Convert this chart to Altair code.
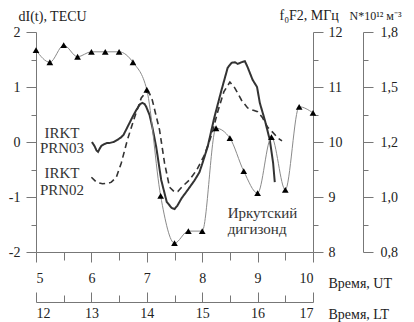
import altair as alt
import pandas as pd

FONT = "Liberation Serif, Times New Roman, serif"

# IRKT PRN03 (solid), dI(t) TECU vs UT hours
ut_prn03 = [6.01, 6.06, 6.09, 6.12, 6.15, 6.18, 6.23, 6.28, 6.32, 6.40, 6.47, 6.53, 6.58, 6.65,
            6.74, 6.81, 6.88, 6.92, 6.96, 6.99, 7.05, 7.10, 7.17, 7.26, 7.36, 7.45, 7.50, 7.55,
            7.63, 7.74, 7.86, 7.95, 8.00, 8.10, 8.22, 8.35, 8.46, 8.53, 8.59, 8.64, 8.71, 8.77,
            8.82, 8.91, 8.99, 9.04, 9.13, 9.22, 9.28, 9.31]
di_prn03 = [0.00, -0.08, -0.15, -0.18, -0.12, -0.07, -0.04, -0.02, -0.02, 0.00, 0.04, 0.08, 0.13, 0.27,
            0.45, 0.58, 0.69, 0.71, 0.69, 0.64, 0.49, 0.27, -0.09, -0.69, -1.09, -1.20, -1.22, -1.16,
            -1.02, -0.87, -0.70, -0.55, -0.40, -0.08, 0.45, 0.95, 1.35, 1.44, 1.45, 1.42, 1.45, 1.47,
            1.36, 1.13, 1.00, 0.71, 0.40, 0.04, -0.38, -0.73]

# IRKT PRN02 (dashed)
ut_prn02 = [6.00, 6.09, 6.20, 6.30, 6.36, 6.45, 6.54, 6.65, 6.78, 6.90, 6.99, 7.05, 7.10, 7.23,
            7.32, 7.41, 7.50, 7.56, 7.63, 7.77, 7.90, 8.04, 8.17, 8.28, 8.39, 8.50, 8.59, 8.71,
            8.82, 8.91, 9.00, 9.09, 9.18, 9.27, 9.37, 9.44]
di_prn02 = [-0.64, -0.73, -0.76, -0.75, -0.73, -0.64, -0.38, 0.04, 0.45, 0.80, 0.91, 0.88, 0.76, 0.22,
            -0.38, -0.82, -0.91, -0.90, -0.82, -0.69, -0.51, -0.24, 0.13, 0.55, 0.91, 1.09, 0.98, 0.76,
            0.62, 0.58, 0.55, 0.44, 0.27, 0.18, 0.07, 0.02]

# Irkutsk digisonde foF2, MHz
ut_fof2 = [5.0, 5.25, 5.5, 5.75, 6.0, 6.25, 6.5, 6.75, 7.0, 7.25, 7.5, 7.75, 8.0, 8.25, 8.5,
           8.75, 9.0, 9.25, 9.5, 9.75, 10.0]
fof2 = [11.67, 11.45, 11.76, 11.55, 11.64, 11.64, 11.64, 11.45, 10.95, 9.02, 8.16, 8.38, 8.38,
        10.25, 10.07, 9.47, 9.07, 10.09, 9.13, 10.64, 10.53]

ut_ticks = [5, 6, 7, 8, 9, 10]
ut_minor = [5.5, 6.5, 7.5, 8.5, 9.5]
lt_ticks = [12, 13, 14, 15, 16, 17]
lt_minor = [12.5, 13.5, 14.5, 15.5, 16.5]
di_ticks = [-2, -1, 0, 1, 2]
di_minor = [-1.5, -0.5, 0.5, 1.5]
fof2_ticks = [8, 9, 10, 11, 12]
fof2_minor = [8.5, 9.5, 10.5, 11.5]
n_labels = ["0,8", "1,0", "1,2", "1,5", "1,8"]

label_lines = ["IRKT", "PRN03", "IRKT", "PRN02"]
label_ut = [5.47, 5.47, 5.47, 5.47]
label_di = [0.17, -0.11, -0.56, -0.87]
dig_lines = ["Иркутский", "дигизонд"]
dig_ut = [8.46, 8.46]
dig_di = [-1.29, -1.58]

tec = pd.concat([
    pd.DataFrame({"ut": ut_prn03, "di": di_prn03, "series": "PRN03"}),
    pd.DataFrame({"ut": ut_prn02, "di": di_prn02, "series": "PRN02"}),
])
fdf = pd.DataFrame({"ut": ut_fof2, "f": fof2})
lab_df = pd.DataFrame({"t": label_lines, "ut": label_ut, "di": label_di})
dig_df = pd.DataFrame({"t": dig_lines, "ut": dig_ut, "di": dig_di})

xs = alt.Scale(domain=[5, 10], nice=False, zero=False)
xlt = alt.Scale(domain=[12, 17], nice=False, zero=False)
ytec = alt.Scale(domain=[-2, 2], nice=False, zero=False)
yf = alt.Scale(domain=[8, 12], nice=False, zero=False)

ST = dict(labelFont=FONT, labelFontSize=14, labelColor="#222", titleFont=FONT,
          titleFontSize=14, titleFontWeight="normal", titleColor="#222",
          domainColor="#777", tickColor="#777", grid=False)

# TEC curves with main UT and left axes
tec_layer = alt.Chart(tec).mark_line(color="#333").encode(
    x=alt.X("ut:Q", scale=xs, axis=alt.Axis(
        orient="bottom", values=ut_ticks, format="d", tickSize=10, labelPadding=9,
        title="Время, UT", titleX=292, titleY=31, titleAlign="left", titleBaseline="middle", **ST)),
    y=alt.Y("di:Q", scale=ytec, axis=alt.Axis(
        orient="left", values=di_ticks, labelExpr="'' + datum.value", tickSize=10, labelPadding=6,
        title="dI(t), TECU", titleAngle=0, titleX=-18, titleY=-12, titleAlign="left",
        titleBaseline="alphabetic", **ST)),
    strokeDash=alt.StrokeDash("series:N", scale=alt.Scale(domain=["PRN03", "PRN02"],
                                                          range=[[1, 0], [6, 4]]), legend=None),
    strokeWidth=alt.StrokeWidth("series:N", scale=alt.Scale(domain=["PRN03", "PRN02"],
                                                            range=[2, 1.6]), legend=None),
)

minor_df_x = pd.DataFrame({"ut": ut_minor, "di": di_minor + [0]})
tec_minor = alt.Chart(minor_df_x).mark_point(opacity=0).encode(
    x=alt.X("ut:Q", scale=xs, axis=alt.Axis(orient="bottom", values=ut_minor, tickSize=8,
                                              labels=False, domain=False, title=None, **ST)),
    y=alt.Y("di:Q", scale=ytec, axis=alt.Axis(orient="left", values=di_minor, tickSize=5,
                                              labels=False, domain=False, title=None, **ST)),
)

fof2_layer = alt.Chart(fdf).mark_line(
    color="#8a8a8a", strokeWidth=1, interpolate="monotone",
    point=alt.OverlayMarkDef(shape="triangle-up", filled=True, color="black", size=45, opacity=1),
).encode(
    x=alt.X("ut:Q", scale=xs, axis=None),
    y=alt.Y("f:Q", scale=yf, axis=alt.Axis(
        orient="right", values=fof2_ticks, format="d", tickSize=10, labelPadding=5,
        title="f₀F2, МГц", titleAngle=0, titleX=-34, titleY=-13, titleAlign="left",
        titleBaseline="alphabetic", **ST)),
)

fdf_minor = pd.DataFrame({"v": fof2_minor})
fof2_minor_layer = alt.Chart(fdf_minor).mark_point(opacity=0).encode(
    y=alt.Y("v:Q", scale=yf, axis=alt.Axis(orient="right", values=fof2_minor, tickSize=5,
                                           labels=False, domain=False, title=None, **ST)),
)

n_expr = "[" + ",".join("'" + s + "'" for s in n_labels) + "][datum.value - " + str(fof2_ticks[0]) + "]"
n_df = pd.DataFrame({"v": fof2_ticks})
ST_N = dict(ST, titleFontSize=12)
n_layer = alt.Chart(n_df).mark_point(opacity=0).encode(
    y=alt.Y("v:Q", scale=yf, axis=alt.Axis(
        orient="right", offset=50, values=fof2_ticks, labelExpr=n_expr, tickSize=10,
        labelPadding=7, title="N*10¹² м⁻³", titleAngle=0, titleX=-14, titleY=-13,
        titleAlign="left", titleBaseline="alphabetic", **ST_N)),
)
n_minor_layer = alt.Chart(fdf_minor).mark_point(opacity=0).encode(
    y=alt.Y("v:Q", scale=yf, axis=alt.Axis(orient="right", offset=50, values=fof2_minor,
                                           tickSize=5, labels=False, domain=False, title=None, **ST)),
)

lt_df = pd.DataFrame({"lt": lt_ticks})
lt_minor_df = pd.DataFrame({"lt": lt_minor})
lt_major_ticks = alt.Chart(lt_df).mark_point(opacity=0).encode(
    x=alt.X("lt:Q", scale=xlt, axis=alt.Axis(orient="bottom", offset=40, values=lt_ticks,
                                             tickSize=10, labels=False, domain=False, title=None, **ST)),
)
lt_minor_ticks = alt.Chart(lt_minor_df).mark_point(opacity=0).encode(
    x=alt.X("lt:Q", scale=xlt, axis=alt.Axis(orient="bottom", offset=43, values=lt_minor,
                                             tickSize=7, labels=False, domain=False, title=None, **ST)),
)
lt_labels = alt.Chart(lt_df).mark_point(opacity=0).encode(
    x=alt.X("lt:Q", scale=xlt, axis=alt.Axis(
        orient="bottom", offset=50, values=lt_ticks, format="d", ticks=False, tickSize=0,
        labelPadding=4, title="Время, LT", titleX=292, titleY=12, titleAlign="left",
        titleBaseline="middle", **ST)),
)

text_prn = alt.Chart(lab_df).mark_text(font=FONT, fontSize=15, color="#333", align="center",
                                         baseline="middle").encode(
    x=alt.X("ut:Q", scale=xs, axis=None),
    y=alt.Y("di:Q", scale=ytec, axis=None),
    text="t:N",
)
text_dig = alt.Chart(dig_df).mark_text(font=FONT, fontSize=15, color="#333", align="left",
                                         baseline="middle").encode(
    x=alt.X("ut:Q", scale=xs, axis=None),
    y=alt.Y("di:Q", scale=ytec, axis=None),
    text="t:N",
)

chart = alt.layer(
    tec_layer, tec_minor, fof2_layer, fof2_minor_layer, n_layer, n_minor_layer,
    lt_major_ticks, lt_minor_ticks, lt_labels, text_prn, text_dig,
).resolve_scale(x="independent", y="independent").properties(
    width=277, height=220,
    padding={"left": 28, "top": 24, "right": 93, "bottom": 80},
    autosize=alt.AutoSizeParams(type="none"),
).configure(font=FONT).configure_view(stroke=None).configure_axis(
    grid=False, domainColor="#777", tickColor="#777", domainWidth=1, tickWidth=1,
    labelFont=FONT, labelFontSize=14, labelColor="#222",
    titleFont=FONT, titleFontSize=14, titleFontWeight="normal", titleColor="#222",
)

chart.save("out.html", embed_options={"renderer": "svg", "actions": False})
